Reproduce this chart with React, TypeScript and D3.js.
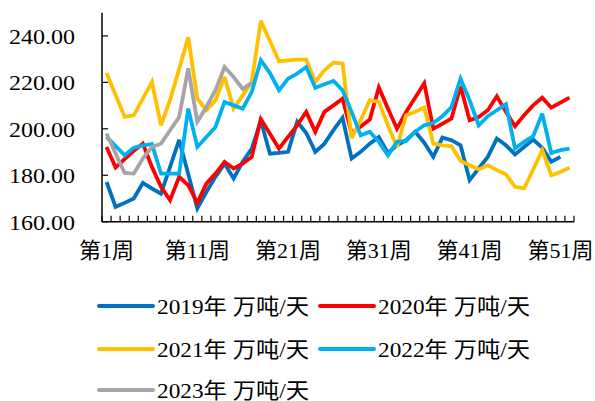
import React from "react";
import * as d3 from "d3";

// 周次
const weeks = Array.from({ length: 52 }, (_, i) => `第${i + 1}周`);
const xTickLabels = ["第1周", "第11周", "第21周", "第31周", "第41周", "第51周"];
const yTicks = [160, 180, 200, 220, 240];

const s2019 = [
  177.1, 166.4, 168.1, 170, 176.7, 174.3, 172.1, 183.6, 195.2, 180.5,
  165.7, 172.8, 179.3, 185, 178.6, 185.8, 191.5, 203.5, 189.3, 189.6,
  190.1, 203, 198.2, 190.1, 193.6, 199.4, 204.8, 187.2, 190.1, 193.6,
  196.5, 189.6, 192.9, 195.1, 198.7, 194, 187.9, 196.2, 195.1, 192.9,
  177.9, 182.9, 187.9, 195.8, 192.9, 189, 192.2, 195.4, 191.9, 185.8,
  187.9, null,
];
const s2020 = [
  192.2, 183.3, 187, 190.5, 193.6, 183.6, 175, 169.3, 179.3, 175.7,
  168.1, 176.4, 180.7, 185.8, 182.9, 185, 187.9, 204.2, 197.9, 191.5,
  196.5, 201.5, 207.3, 198.7, 207.3, 210.1, 213, 198, 201, 204,
  217.8, 208.7, 200, 207.3, 213.4, 219.6, 200.1, 202.2, 204.4, 218.3,
  203.7, 205.1, 208, 214, 207.3, 201.1, 205.8, 210.1, 213.4, 209.1,
  211.3, 213.4,
];
const s2021 = [
  224, 214.6, 205.1, 205.8, 213, 220.2, 201.5, 212.4, 225.8, 239.4,
  213, 208, 212.3, 222.3, 208.7, 214.4, 220.2, 246.5, 237.8, 229.1,
  229.5, 229.8, 229.8, 220.2, 225.2, 228.5, 228.1, 196, 203.7, 212.3,
  211.6, 201.5, 192.2, 205.8, 207.3, 209.2, 193.6, 192.9, 192.5, 186.2,
  184.3, 182.5, 184.3, 182.2, 180.4, 175, 174.3, 182.5, 190.8, 180,
  181.4, 183.3,
];
const s2022 = [
  196.5, 192.6, 188.6, 191.9, 192.9, 193.4, 180.7, 180.7, 180.7, 208.7,
  192.2, 196.5, 200.8, 211.6, 210.1, 208.7, 215.9, 229.5, 224, 216.6,
  221.6, 223.8, 226.6, 217.7, 219.2, 220.6, 216.6, 207.3, 197.2, 198.7,
  194.4, 188.6, 194.4, 194.8, 198.7, 201.5, 202.5, 205.4, 209.4, 221.6,
  212.3, 201.5, 205.4, 208, 210.6, 191.5, 194.4, 196.8, 206.5, 189.6,
  190.8, 191.5,
];
const s2023 = [
  198, 189.4, 181, 180.7, 187.2, 192.2, 193.6, 199.4, 205.1, 226,
  203, 209.4, 216.6, 226.6, 222.3, 217.2, 219.8,
];

const seriesNames = ["2019年 万吨/天", "2020年 万吨/天", "2021年 万吨/天", "2022年 万吨/天", "2023年 万吨/天"];
const seriesColors = ["#0070C0", "#FF0000", "#FFC000", "#00B0F0", "#A5A5A5"];
const seriesData = [s2019, s2020, s2021, s2022, s2023];

const W = 595;
const H = 401;
const left = 102;
const right = 574;
const top = 12.7;
const bottom = 221.7;
const font = '"Times New Roman", "Liberation Serif", "Noto Sans CJK SC", serif';

export default function App() {
  const x = d3.scaleBand<string>().domain(weeks).range([left, right]);
  const y = d3.scaleLinear().domain([160, 250]).range([bottom, top]);
  const cx = (i: number) => (x(weeks[i]) as number) + x.bandwidth() / 2;

  const line = d3
    .line<number | null>()
    .defined((d) => d != null)
    .x((_, i) => cx(i))
    .y((d) => y(d as number));

  const legendPos = [
    [99, 306],
    [320, 306],
    [99, 349],
    [320, 349],
    [99, 390],
  ];

  return (
    <svg width={W} height={H} style={{ position: "absolute", left: 0, top: 0 }}>
      <rect width={W} height={H} fill="#fff" />
      {seriesData.map((s, k) => (
        <path
          key={k}
          d={line(s) || ""}
          fill="none"
          stroke={seriesColors[k]}
          strokeWidth={3.8}
          strokeLinejoin="miter"
          strokeMiterlimit={3}
        />
      ))}
      {/* y 轴 */}
      <line x1={left} x2={left} y1={top} y2={bottom} stroke="#000" strokeWidth={1.5} />
      {yTicks.map((t) => (
        <g key={t}>
          <line x1={left} x2={left + 6} y1={y(t)} y2={y(t)} stroke="#000" strokeWidth={1.2} />
          <text
            x={75}
            y={y(t) + 8}
            textAnchor="end"
            fontFamily={font}
            fontSize={22}
            textLength={66}
            lengthAdjust="spacingAndGlyphs"
            fill="#000"
          >
            {t.toFixed(2)}
          </text>
        </g>
      ))}
      {/* x 轴 */}
      <line x1={left} x2={right} y1={bottom} y2={bottom} stroke="#000" strokeWidth={1.5} />
      {weeks.concat([""]).map((w, i) => {
        const xx = i < weeks.length ? (x(w) as number) : right;
        return <line key={i} x1={xx} x2={xx} y1={bottom} y2={bottom - 6} stroke="#000" strokeWidth={1.2} />;
      })}
      {xTickLabels.map((lab) => (
        <text
          key={lab}
          x={cx(weeks.indexOf(lab))}
          y={258}
          textAnchor="middle"
          fontFamily={font}
          fontSize={22}
          fill="#000"
        >
          {lab}
        </text>
      ))}
      {/* 图例 */}
      {seriesNames.map((n, k) => (
        <g key={n}>
          <line
            x1={legendPos[k][0]}
            x2={legendPos[k][0] + 54}
            y1={legendPos[k][1]}
            y2={legendPos[k][1]}
            stroke={seriesColors[k]}
            strokeWidth={4}
            strokeLinecap="round"
          />
          <text
            x={legendPos[k][0] + 58}
            y={legendPos[k][1] + 8}
            fontFamily={font}
            fontSize={22}
            textLength={152}
            lengthAdjust="spacingAndGlyphs"
            fill="#000"
          >
            {n}
          </text>
        </g>
      ))}
    </svg>
  );
}
